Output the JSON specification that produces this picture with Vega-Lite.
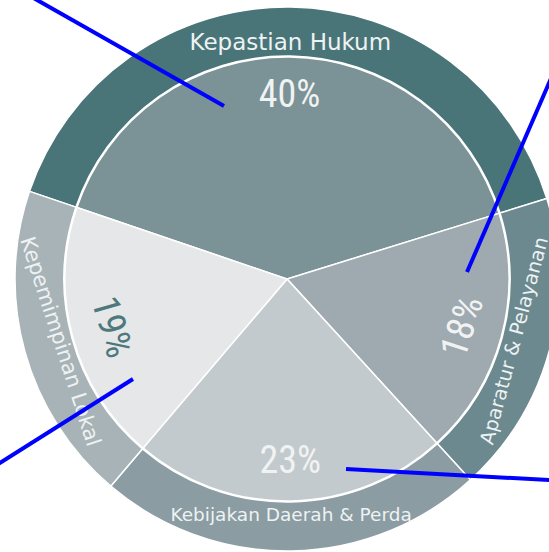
{
  "$schema": "https://vega.github.io/schema/vega-lite/v6.json",
  "width": 518,
  "height": 544,
  "autosize": {"type": "none"},
  "padding": {"left": 28, "right": 3, "top": 7, "bottom": 1},
  "background": "white",
  "config": {"view": {"stroke": null}},
  "datasets": {
    "porsi": [
      {"kategori": "Kepastian Hukum", "nilai": 0.40, "urutan": 1},
      {"kategori": "Aparatur & Pelayanan", "nilai": 0.18, "urutan": 2},
      {"kategori": "Kebijakan Daerah & Perda", "nilai": 0.23, "urutan": 3},
      {"kategori": "Kepemimpinan Lokal", "nilai": 0.19, "urutan": 4}
    ],
    "garis": [
      {"x1": -1.0551, "y1": 1.1029, "x2": -0.2316, "y2": 0.6360},
      {"x1": 1.0320, "y1": 0.8787, "x2": 0.6618, "y2": 0.0257},
      {"x1": 1.0404, "y1": -0.7434, "x2": 0.2169, "y2": -0.6985},
      {"x1": -1.1287, "y1": -0.7228, "x2": -0.5662, "y2": -0.3676}
    ]
  },
  "layer": [
    {
      "data": {"name": "porsi"},
      "mark": {"type": "arc", "outerRadius": 272, "innerRadius": 223, "stroke": "white", "strokeWidth": 1.5},
      "encoding": {
        "theta": {"field": "nilai", "type": "quantitative", "stack": true, "scale": {"range": [-1.2427, 5.0405]}},
        "order": {"field": "urutan", "type": "quantitative"},
        "color": {
          "field": "kategori", "type": "nominal", "legend": null,
          "scale": {
            "domain": ["Kepastian Hukum", "Aparatur & Pelayanan", "Kebijakan Daerah & Perda", "Kepemimpinan Lokal"],
            "range": ["#497579", "#6b898e", "#8b9ca3", "#a8b3b7"]
          }
        }
      }
    },
    {
      "data": {"name": "porsi"},
      "mark": {"type": "arc", "outerRadius": 222, "innerRadius": 0, "stroke": "white", "strokeWidth": 1.5},
      "encoding": {
        "theta": {"field": "nilai", "type": "quantitative", "stack": true, "scale": {"range": [-1.2427, 5.0405]}},
        "order": {"field": "urutan", "type": "quantitative"},
        "color": {
          "field": "kategori", "type": "nominal", "legend": null,
          "scale": {
            "domain": ["Kepastian Hukum", "Aparatur & Pelayanan", "Kebijakan Daerah & Perda", "Kepemimpinan Lokal"],
            "range": ["#7b9296", "#9eaab0", "#c3cacd", "#e6e7e9"]
          }
        }
      }
    },
    {
      "data": {"name": "porsi"},
      "mark": {"type": "text", "radius": 183, "font": "'Roboto Condensed', 'Liberation Sans Narrow', Roboto", "fontSize": 38, "align": "center", "baseline": "middle"},
      "encoding": {
        "theta": {"field": "nilai", "type": "quantitative", "stack": true, "scale": {"range": [-1.2427, 5.0405]}},
        "order": {"field": "urutan", "type": "quantitative"},
        "text": {"field": "nilai", "type": "quantitative", "format": ".0%"},
        "angle": {
          "field": "kategori", "type": "nominal",
          "scale": {
            "type": "ordinal",
            "domain": ["Kepastian Hukum", "Aparatur & Pelayanan", "Kebijakan Daerah & Perda", "Kepemimpinan Lokal"],
            "range": [0, -72, 0, 74]
          }
        },
        "color": {
          "condition": {"test": "datum.kategori === 'Kepemimpinan Lokal'", "value": "#4d787c"},
          "value": "#f1f3f3"
        }
      }
    },
    {
      "data": {"name": "porsi"},
      "mark": {"type": "text", "radius": 236, "font": "DejaVu Sans", "align": "center", "baseline": "middle", "color": "#eef2f2"},
      "encoding": {
        "theta": {"field": "nilai", "type": "quantitative", "stack": true, "scale": {"range": [-1.2427, 5.0405]}},
        "order": {"field": "urutan", "type": "quantitative"},
        "text": {"field": "kategori", "type": "nominal"},
        "size": {
          "field": "kategori", "type": "nominal", "legend": null,
          "scale": {
            "type": "ordinal",
            "domain": ["Kepastian Hukum", "Aparatur & Pelayanan", "Kebijakan Daerah & Perda", "Kepemimpinan Lokal"],
            "range": [23, 19.5, 18.5, 21]
          }
        },
        "angle": {
          "field": "kategori", "type": "nominal",
          "scale": {
            "type": "ordinal",
            "domain": ["Kepastian Hukum", "Aparatur & Pelayanan", "Kebijakan Daerah & Perda", "Kepemimpinan Lokal"],
            "range": [0, -75, 0, 72]
          }
        }
      }
    },
    {
      "data": {"name": "garis"},
      "mark": {"type": "rule", "color": "#0000ff", "strokeWidth": 4, "strokeCap": "butt"},
      "encoding": {
        "x": {"field": "x1", "type": "quantitative", "axis": null, "scale": {"domain": [-0.9522, 0.9522], "nice": false, "zero": false}},
        "y": {"field": "y1", "type": "quantitative", "axis": null, "scale": {"domain": [-1, 1], "nice": false, "zero": false}},
        "x2": {"field": "x2"},
        "y2": {"field": "y2"}
      }
    }
  ],
  "resolve": {"scale": {"color": "independent", "angle": "independent", "size": "independent"}}
}
